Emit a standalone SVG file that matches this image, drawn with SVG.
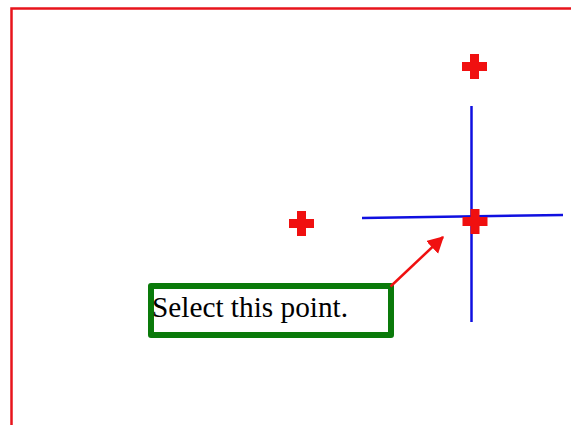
<svg xmlns="http://www.w3.org/2000/svg" xmlns:xlink="http://www.w3.org/1999/xlink" width="571" height="425" viewBox="0 0 571 425">
  <style>
    .frame { fill: none; stroke: #e8141c; stroke-width: 2.5; }
    .axis { stroke: #1010e0; stroke-width: 2.5; fill: none; }
    .cross { fill: #f01010; }
    .box { fill: #ffffff; stroke: #0a7a0a; stroke-width: 6; stroke-linejoin: round; }
    .label { font-family: "Liberation Serif", "Times New Roman", serif; font-size: 29.5px; fill: #000; }
    .arrow { stroke: #f01010; stroke-width: 2.5; fill: none; }
  </style>
  <defs>
    <path id="crossShape" d="M-4.5,-12.5 H4.5 V-4.5 H12.5 V4.5 H4.5 V12.5 H-4.5 V4.5 H-12.5 V-4.5 H-4.5 Z"/>
    <marker id="arrowHead" markerWidth="8" markerHeight="8" refX="6" refY="3.5" orient="auto" markerUnits="strokeWidth">
      <path d="M0,0 L6.5,3.5 L0,7 Z" fill="#f01010"/>
    </marker>
  </defs>
  <rect width="571" height="425" fill="#ffffff"/>
  <rect class="frame" x="11.5" y="8.5" width="600" height="500"/>

  <g id="axes">
    <line class="axis" x1="471.5" y1="106" x2="471.5" y2="322"/>
    <line class="axis" x1="362" y1="218" x2="563" y2="215"/>
  </g>

  <g id="cross-top"><use xlink:href="#crossShape" href="#crossShape" class="cross" transform="translate(474.5,66.5)"/></g>
  <g id="cross-left"><use xlink:href="#crossShape" href="#crossShape" class="cross" transform="translate(301.5,223.5)"/></g>
  <g id="cross-center"><use xlink:href="#crossShape" href="#crossShape" class="cross" transform="translate(475,221.5)"/></g>

  <g id="callout">
    <rect class="box" x="151" y="286" width="240" height="49"/>
    <text class="label" x="152" y="317" textLength="196" lengthAdjust="spacingAndGlyphs">Select this point.</text>
  </g>

  <g id="connectors">
    <line class="arrow" x1="390.5" y1="286.5" x2="443" y2="237" marker-end="url(#arrowHead)"/>
  </g>
</svg>
